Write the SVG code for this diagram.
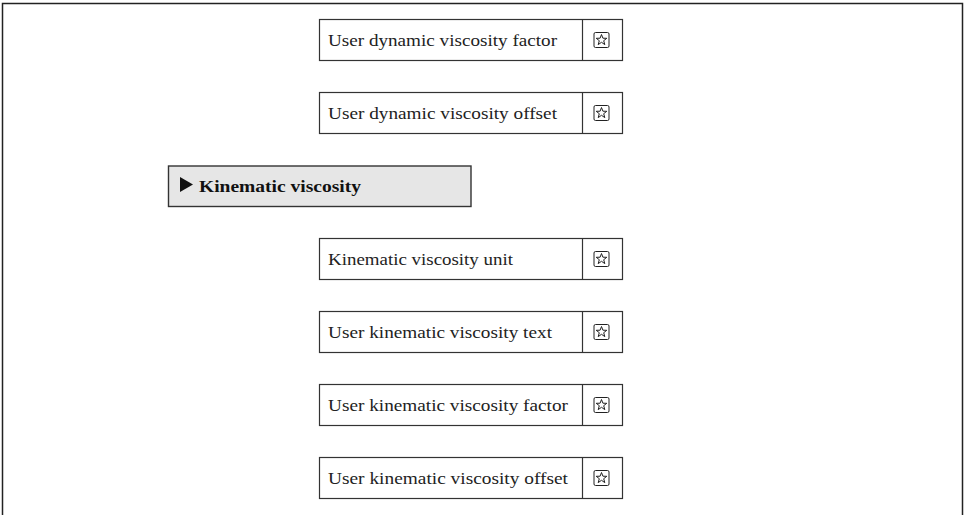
<svg xmlns="http://www.w3.org/2000/svg" width="966" height="515" viewBox="0 0 966 515">
<defs>
<style>
.frame{fill:none;stroke:#222;stroke-width:1.5}
.box{fill:#fff;stroke:#333;stroke-width:1.2}
.hdr{fill:#e6e6e6;stroke:#333;stroke-width:1.4}
.lbl{font-family:"Liberation Serif","DejaVu Serif",serif;font-size:17px;fill:#222}
.hlbl{font-family:"Liberation Serif","DejaVu Serif",serif;font-size:17px;font-weight:bold;fill:#111}
.ico{fill:none;stroke:#222;stroke-width:1}
</style>
<g id="star">
<rect x="-7.5" y="-7.5" width="15" height="15" rx="1.5" class="ico"/>
<polygon class="ico" points="0,-5.5 1.4,-1.8 5.3,-1.7 2.2,0.7 3.3,4.6 0,2.3 -3.3,4.6 -2.2,0.7 -5.3,-1.7 -1.4,-1.8"/>
</g>
</defs>
<rect width="966" height="515" fill="#fff"/>
<path class="frame" d="M2.5,515 V3.5 H962.5 V515"/>
<g id="connectors"></g>
<g id="n1">
<rect class="box" x="319.5" y="19.5" width="303" height="41"/>
<line class="box" x1="582.5" y1="19.5" x2="582.5" y2="60.5"/>
<text class="lbl" x="328" y="45.5" textLength="229" lengthAdjust="spacingAndGlyphs">User dynamic viscosity factor</text>
<use href="#star" x="601.5" y="40"/>
</g>
<g id="n2">
<rect class="box" x="319.5" y="92.5" width="303" height="41"/>
<line class="box" x1="582.5" y1="92.5" x2="582.5" y2="133.5"/>
<text class="lbl" x="328" y="118.5" textLength="229" lengthAdjust="spacingAndGlyphs">User dynamic viscosity offset</text>
<use href="#star" x="601.5" y="113"/>
</g>
<g id="h1">
<rect class="hdr" x="168.5" y="166" width="302.5" height="40.5"/>
<polygon points="180,177 193,184.5 180,192" fill="#111"/>
<text class="hlbl" x="199" y="192" textLength="162" lengthAdjust="spacingAndGlyphs">Kinematic viscosity</text>
</g>
<g id="n3">
<rect class="box" x="319.5" y="238.5" width="303" height="41"/>
<line class="box" x1="582.5" y1="238.5" x2="582.5" y2="279.5"/>
<text class="lbl" x="328" y="264.5" textLength="185" lengthAdjust="spacingAndGlyphs">Kinematic viscosity unit</text>
<use href="#star" x="601.5" y="259"/>
</g>
<g id="n4">
<rect class="box" x="319.5" y="311.5" width="303" height="41"/>
<line class="box" x1="582.5" y1="311.5" x2="582.5" y2="352.5"/>
<text class="lbl" x="328" y="337.5" textLength="224" lengthAdjust="spacingAndGlyphs">User kinematic viscosity text</text>
<use href="#star" x="601.5" y="332"/>
</g>
<g id="n5">
<rect class="box" x="319.5" y="384.5" width="303" height="41"/>
<line class="box" x1="582.5" y1="384.5" x2="582.5" y2="425.5"/>
<text class="lbl" x="328" y="410.5" textLength="240" lengthAdjust="spacingAndGlyphs">User kinematic viscosity factor</text>
<use href="#star" x="601.5" y="405"/>
</g>
<g id="n6">
<rect class="box" x="319.5" y="457.5" width="303" height="41"/>
<line class="box" x1="582.5" y1="457.5" x2="582.5" y2="498.5"/>
<text class="lbl" x="328" y="483.5" textLength="240" lengthAdjust="spacingAndGlyphs">User kinematic viscosity offset</text>
<use href="#star" x="601.5" y="478"/>
</g>
</svg>
